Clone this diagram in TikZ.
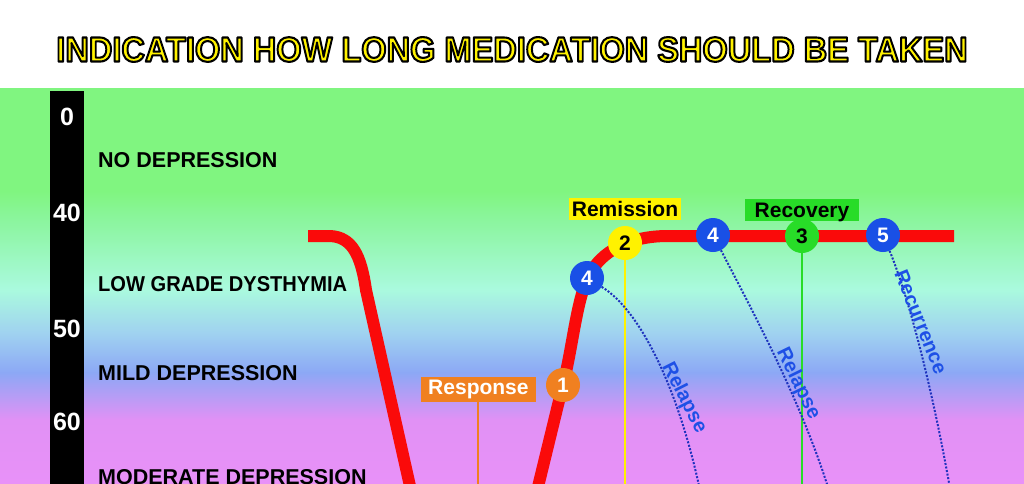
\documentclass[tikz,border=0pt]{standalone}
\usepackage{fontspec}
\setmainfont{Liberation Sans}
\usetikzlibrary{positioning}

\definecolor{bgGreen}{RGB}{128,245,128}
\definecolor{bgLime}{RGB}{140,245,160}
\definecolor{bgMint}{RGB}{170,250,222}
\definecolor{bgSky}{RGB}{160,210,240}
\definecolor{bgBlue}{RGB}{140,168,245}
\definecolor{bgViolet}{RGB}{225,145,245}
\definecolor{bgPink}{RGB}{232,145,248}
\definecolor{curveRed}{RGB}{250,10,10}
\definecolor{stageBlue}{RGB}{25,80,230}
\definecolor{stageOrange}{RGB}{240,128,32}
\definecolor{stageYellow}{RGB}{255,242,0}
\definecolor{stageGreen}{RGB}{40,220,40}
\definecolor{relapseBlue}{RGB}{30,80,230}
\definecolor{dotBlue}{RGB}{30,50,190}

% outlined text: yellow fill, black stroke
\newcommand{\outlined}[1]{{\color{stageYellow}\special{pdf:literal direct 2 Tr 2.1 w 1 j 0 0 0 RG}#1\special{pdf:literal direct 0 Tr}}}

\pgfdeclarelayer{back}
\pgfdeclarelayer{guides}
\pgfsetlayers{back,guides,main}

\pgfdeclareverticalshading{moodscale}{100bp}{color(0bp)=(bgPink); color(25bp)=(bgPink); color(33bp)=(bgViolet); color(39bp)=(bgBlue); color(44bp)=(bgSky); color(49.5bp)=(bgMint); color(58bp)=(bgLime); color(62bp)=(bgGreen); color(75bp)=(bgGreen); color(100bp)=(bgGreen)}

\tikzset{
    % scale and levels
    score/.style={
        text=white,
        font=\bfseries\fontsize{25}{25}\selectfont,
        inner sep=0pt
    },
    level/.style={
        anchor=west,
        text=black,
        font=\bfseries\fontsize{21.5}{22}\selectfont,
        inner sep=0pt
    },
    % stages
    stage/.style={
        circle,
        draw=none,
        minimum size=34pt,
        inner sep=0pt,
        font=\bfseries\fontsize{21}{21}\selectfont
    },
    tag/.style={
        font=\bfseries\fontsize{21}{21}\selectfont,
        inner xsep=3pt,
        inner ysep=3.5pt,
        text height=15pt,
        text depth=0pt
    },
    % lines
    course/.style={
        line width=12pt,
        color=curveRed,
        line join=round
    },
    guide/.style={
        line width=2pt
    },
    relapse/.style={
        line width=2pt,
        color=dotBlue,
        dash pattern=on 2pt off 1.6pt
    },
    relapse-text/.style={
        text=relapseBlue,
        font=\bfseries\fontsize{20}{20}\selectfont,
        inner sep=0pt
    }
}

\begin{document}
\begin{tikzpicture}[x=1pt, y=-1pt]

        \useasboundingbox (0,0) rectangle (1024,483);
        \clip (0,0) rectangle (1024,483);

        \begin{pgfonlayer}{back}
            \fill[white] (0,0) rectangle (1024,88);
            \shade[shading=moodscale] (0,88) rectangle (1024,483);
            \fill[black] (50,91) rectangle (84,490);
        \end{pgfonlayer}

        % title
        \node (title) at (512,49.5) {\fontsize{35}{35}\selectfont\bfseries\scalebox{0.93}[1]{\outlined{INDICATION HOW LONG MEDICATION SHOULD BE TAKEN}}};

        % scale
        \foreach \s/\y in {0/117, 40/213, 50/328.5, 60/422}
            \node [score] (score-\s) at (67,\y) {\s};

        \node [level] (level-none) at (98,160.5) {NO DEPRESSION};
        \node [level] (level-low) at (98,284) {\scalebox{0.935}[1]{LOW GRADE DYSTHYMIA}};
        \node [level] (level-mild) at (98,373) {MILD DEPRESSION};
        \node [level] (level-moderate) at (98,477) {MODERATE DEPRESSION};

        % stages
        \node [stage, fill=stageOrange, text=white] (response) at (563,385) {1};
        \node [stage, fill=stageBlue, text=white] (relapse-1) at (587,278) {4};
        \node [stage, fill=stageYellow, text=black] (remission) at (625,243) {2};
        \node [stage, fill=stageBlue, text=white] (relapse-2) at (713,235) {4};
        \node [stage, fill=stageGreen, text=black] (recovery) at (802,236) {3};
        \node [stage, fill=stageBlue, text=white] (recurrence) at (883,235) {5};

        \node [tag, fill=stageOrange, text=white, text depth=4.5pt, inner xsep=7pt, inner ysep=3pt, left=10pt of response, yshift=-4.5pt] (response-tag) {Response};
        \node [tag, fill=stageYellow, text=black, inner xsep=2.5pt, above=6pt of remission] (remission-tag) {Remission};
        \node [tag, fill=stageGreen, text=black, inner xsep=10pt, above=-2pt of recovery] (recovery-tag) {Recovery};

        \coordinate (floor) at (0,495);

        \begin{pgfonlayer}{guides}
            % course of the illness
            \draw [course] (308,236) -- (330,236) .. controls (352,237) and (361,255) .. (366,290)
                -- (412,495) .. controls (420,530) and (530,530) .. (536,495)
                -- (566,372) .. controls (574,335) and (578,295) .. (590,273)
                .. controls (602,253) and (625,237) .. (665,236) -- (954,236);

            % guides
            \draw [guide, stageOrange] (response-tag.south) -- (response-tag.south |- floor);
            \draw [guide, stageYellow] (remission) -- (remission |- floor);
            \draw [guide, stageGreen] (recovery) -- (recovery |- floor);

            % relapses
            \draw [relapse] (relapse-1) .. controls (640,310) and (680,390) .. (702,500);
            \draw [relapse] (relapse-2) .. controls (760,325) and (805,410) .. (832,500);
            \draw [relapse] (recurrence) .. controls (910,300) and (935,400) .. (952,500);
        \end{pgfonlayer}

        \node [relapse-text, rotate=-63] (relapse-1-text) at (684,398) {Relapse};
        \node [relapse-text, rotate=-64] (relapse-2-text) at (798,384) {Relapse};
        \node [relapse-text, rotate=-68] (recurrence-text) at (921,322) {Recurrence};

    \end{tikzpicture}
\end{document}
